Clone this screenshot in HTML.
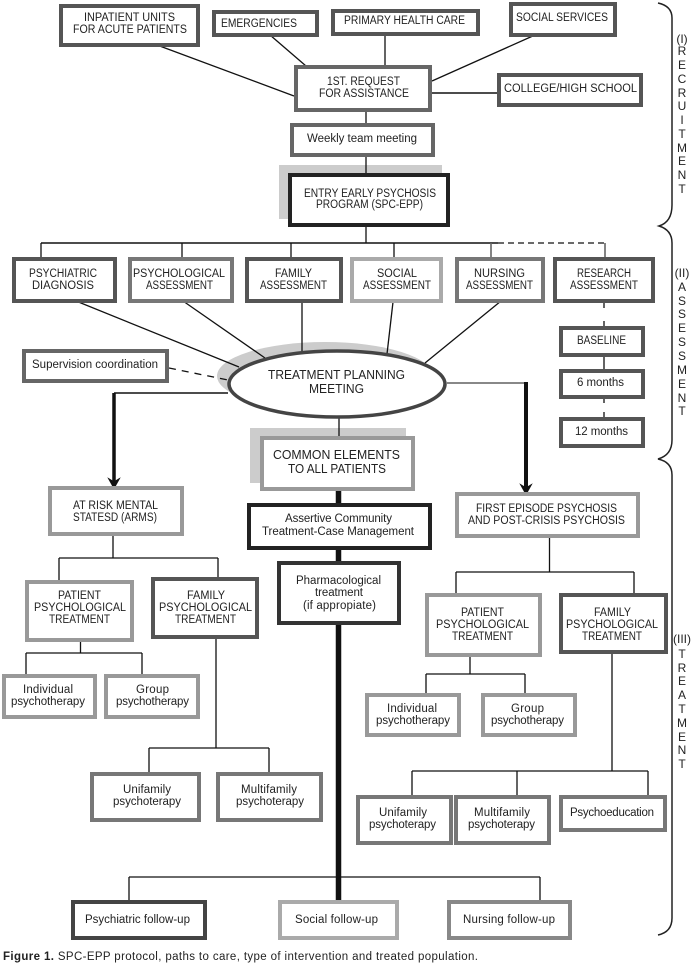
<!DOCTYPE html>
<html><head><meta charset="utf-8"><style>
html,body{margin:0;padding:0;background:#fff}
svg{display:block}
text{font-family:"Liberation Sans",sans-serif;font-size:11.5px;fill:#222}
.b rect{fill:#fff;stroke-width:4}
.l line,.l path{stroke:#111;fill:none;stroke-width:1.3}
.s text{font-size:12px;fill:#222;text-anchor:middle}
</style></head><body>
<svg width="694" height="964" viewBox="0 0 694 964" xmlns="http://www.w3.org/2000/svg">
<rect width="694" height="964" fill="#fff"/>
<!-- shadows -->
<rect x="279" y="165" width="163" height="54" fill="#ccc"/>
<ellipse cx="325" cy="376" rx="108" ry="34" fill="#ccc"/>
<rect x="250" y="428" width="156" height="55" fill="#ccc"/>
<!-- connectors -->
<g class="l">
<line x1="157" y1="45" x2="294" y2="96"/>
<line x1="270" y1="35" x2="306" y2="66"/>
<line x1="385" y1="36" x2="385" y2="66"/>
<line x1="535" y1="35" x2="432" y2="81"/>
<line x1="432" y1="93" x2="497" y2="93" style="stroke-width:1.6"/>
<line x1="366" y1="112" x2="366" y2="123"/>
<line x1="366" y1="157" x2="366" y2="174"/>
<line x1="366" y1="226" x2="366" y2="243"/>
<line x1="41" y1="243" x2="498" y2="243" style="stroke-width:1.6"/>
<line x1="498" y1="243" x2="605" y2="243" stroke-dasharray="6 4"/>
<line x1="41" y1="243" x2="41" y2="258"/>
<line x1="182" y1="243" x2="182" y2="258"/>
<line x1="291" y1="243" x2="291" y2="258"/>
<line x1="394" y1="243" x2="394" y2="258"/>
<line x1="491" y1="243" x2="491" y2="258" style="stroke:#666;stroke-width:1.6"/>
<line x1="605" y1="243" x2="605" y2="258" style="stroke:#666;stroke-width:1.6"/>
<line x1="76" y1="301" x2="239" y2="367"/>
<line x1="183" y1="301" x2="265" y2="358"/>
<line x1="302" y1="302" x2="302" y2="352"/>
<line x1="393" y1="302" x2="387" y2="354"/>
<line x1="501" y1="301" x2="425" y2="363"/>
<line x1="604" y1="303" x2="604" y2="308"/>
<line x1="604" y1="321" x2="604" y2="327"/>
<line x1="604" y1="356" x2="604" y2="370"/>
<line x1="604" y1="398" x2="604" y2="403"/>
<line x1="604" y1="412" x2="604" y2="418"/>
<line x1="169" y1="368" x2="228" y2="380" stroke-dasharray="7 6"/>
<line x1="339" y1="418" x2="339" y2="437"/>
<line x1="228" y1="393" x2="114" y2="393" style="stroke-width:1.6"/>
<line x1="114" y1="393" x2="114" y2="482" style="stroke-width:3.5"/>
<line x1="447" y1="383" x2="526" y2="383" style="stroke:#777;stroke-width:1.8"/>
<line x1="526" y1="382" x2="526" y2="488" style="stroke-width:4"/>
<path d="M109 479 L114 488 L119 479 L114 482 Z" style="fill:#111"/>
<path d="M521 485 L526 494 L531 485 L526 488 Z" style="fill:#111"/>
<line x1="338.5" y1="488" x2="338.5" y2="905" style="stroke-width:5.5"/>
<line x1="113" y1="536" x2="113" y2="558"/>
<line x1="59" y1="558" x2="218" y2="558"/>
<line x1="59" y1="558" x2="59" y2="581"/>
<line x1="218" y1="558" x2="218" y2="578"/>
<line x1="80.5" y1="642" x2="80.5" y2="653"/>
<line x1="26" y1="653" x2="142" y2="653"/>
<line x1="26" y1="653" x2="26" y2="675"/>
<line x1="142" y1="653" x2="142" y2="675"/>
<line x1="216" y1="639" x2="216" y2="748"/>
<line x1="149" y1="748" x2="269" y2="748"/>
<line x1="149" y1="748" x2="149" y2="773"/>
<line x1="269" y1="748" x2="269" y2="773"/>
<line x1="549.5" y1="538" x2="549.5" y2="572"/>
<line x1="456" y1="572" x2="634" y2="572"/>
<line x1="456" y1="572" x2="456" y2="594"/>
<line x1="634" y1="572" x2="634" y2="594"/>
<line x1="470" y1="657" x2="470" y2="674"/>
<line x1="426" y1="674" x2="525" y2="674"/>
<line x1="426" y1="674" x2="426" y2="694"/>
<line x1="525" y1="674" x2="525" y2="694"/>
<line x1="612" y1="654" x2="612" y2="771"/>
<line x1="412" y1="771" x2="648" y2="771"/>
<line x1="412" y1="771" x2="412" y2="796"/>
<line x1="517" y1="771" x2="517" y2="796"/>
<line x1="648" y1="771" x2="648" y2="796"/>
<line x1="129" y1="877" x2="540" y2="877"/>
<line x1="129" y1="877" x2="129" y2="901"/>
<line x1="540" y1="877" x2="540" y2="901"/>
<path d="M658 3 Q672 6 672 18 L672 205 Q672 222 659 226 Q672 230 672 243 L672 440 Q672 455 658 459 Q672 462 672 475 L672 918 Q672 932 658 935" style="stroke:#222;stroke-width:1.5"/>
</g>
<!-- boxes -->
<g class="b">
<rect x="61" y="6" width="137" height="39" stroke="#555"/>
<rect x="214" y="12" width="103" height="23" stroke="#555"/>
<rect x="333" y="11" width="145" height="23" stroke="#555"/>
<rect x="511" y="4" width="104" height="31" stroke="#555"/>
<rect x="296" y="67" width="134" height="43" stroke="#666"/>
<rect x="499" y="75" width="142" height="30" stroke="#555"/>
<rect x="292" y="125" width="141" height="30" stroke="#666"/>
<rect x="290" y="175" width="158" height="50" stroke="#222"/>
<rect x="14" y="259" width="101" height="42" stroke="#555"/>
<rect x="130" y="259" width="102" height="42" stroke="#777"/>
<rect x="247" y="259" width="94" height="42" stroke="#555"/>
<rect x="352" y="259" width="89" height="42" stroke="#aaa"/>
<rect x="457" y="259" width="86" height="42" stroke="#777"/>
<rect x="555" y="259" width="98" height="42" stroke="#555"/>
<rect x="24" y="351" width="143" height="30" stroke="#666"/>
<rect x="561" y="328" width="82" height="27" stroke="#555"/>
<rect x="561" y="371" width="82" height="26" stroke="#555"/>
<rect x="561" y="419" width="82" height="27" stroke="#555"/>
<rect x="262" y="438" width="151" height="51" stroke="#999"/>
<rect x="50" y="488" width="132" height="46" stroke="#999"/>
<rect x="249" y="505" width="181" height="43" stroke="#222"/>
<rect x="279" y="563" width="120" height="60" stroke="#333"/>
<rect x="457" y="494" width="181" height="42" stroke="#999"/>
<rect x="27" y="582" width="105" height="58" stroke="#999"/>
<rect x="153" y="579" width="104" height="58" stroke="#555"/>
<rect x="427" y="595" width="113" height="60" stroke="#999"/>
<rect x="561" y="595" width="105" height="57" stroke="#555"/>
<rect x="4" y="676" width="91" height="41" stroke="#999"/>
<rect x="106" y="676" width="92" height="41" stroke="#999"/>
<rect x="367" y="695" width="92" height="40" stroke="#999"/>
<rect x="483" y="695" width="92" height="40" stroke="#999"/>
<rect x="92" y="774" width="107" height="46" stroke="#777"/>
<rect x="218" y="774" width="103" height="46" stroke="#777"/>
<rect x="358" y="797" width="93" height="46" stroke="#777"/>
<rect x="456" y="797" width="93" height="46" stroke="#777"/>
<rect x="561" y="797" width="104" height="33" stroke="#777"/>
<rect x="73" y="902" width="132" height="36" stroke="#444"/>
<rect x="280" y="902" width="117" height="36" stroke="#aaa"/>
<rect x="449" y="902" width="121" height="36" stroke="#888"/>
</g>
<ellipse cx="337" cy="384" rx="108" ry="33" fill="#fff" stroke="#444" stroke-width="3.5"/>
<!-- labels -->
<g>
<text x="84" y="21" textLength="91" lengthAdjust="spacingAndGlyphs">INPATIENT UNITS</text>
<text x="73" y="33" textLength="114" lengthAdjust="spacingAndGlyphs">FOR ACUTE PATIENTS</text>
<text x="221" y="27" textLength="76" lengthAdjust="spacingAndGlyphs">EMERGENCIES</text>
<text x="344" y="24" textLength="121" lengthAdjust="spacingAndGlyphs">PRIMARY HEALTH CARE</text>
<text x="516" y="21" textLength="92" lengthAdjust="spacingAndGlyphs">SOCIAL SERVICES</text>
<text x="327" y="85" textLength="73" lengthAdjust="spacingAndGlyphs">1ST. REQUEST</text>
<text x="319" y="97" textLength="90" lengthAdjust="spacingAndGlyphs">FOR ASSISTANCE</text>
<text x="504" y="92" textLength="133" lengthAdjust="spacingAndGlyphs">COLLEGE/HIGH SCHOOL</text>
<text x="307" y="142" textLength="110" lengthAdjust="spacing">Weekly team meeting</text>
<text x="304" y="197" textLength="132" lengthAdjust="spacingAndGlyphs">ENTRY EARLY PSYCHOSIS</text>
<text x="316" y="208" textLength="107" lengthAdjust="spacingAndGlyphs">PROGRAM (SPC-EPP)</text>
<text x="29" y="277" textLength="68" lengthAdjust="spacingAndGlyphs">PSYCHIATRIC</text>
<text x="32" y="289" textLength="62" lengthAdjust="spacingAndGlyphs">DIAGNOSIS</text>
<text x="133" y="277" textLength="92" lengthAdjust="spacingAndGlyphs">PSYCHOLOGICAL</text>
<text x="146" y="289" textLength="67" lengthAdjust="spacingAndGlyphs">ASSESSMENT</text>
<text x="275" y="277" textLength="37" lengthAdjust="spacingAndGlyphs">FAMILY</text>
<text x="260" y="289" textLength="67" lengthAdjust="spacingAndGlyphs">ASSESSMENT</text>
<text x="377" y="277" textLength="40" lengthAdjust="spacingAndGlyphs">SOCIAL</text>
<text x="363" y="289" textLength="68" lengthAdjust="spacingAndGlyphs">ASSESSMENT</text>
<text x="474" y="277" textLength="51" lengthAdjust="spacingAndGlyphs">NURSING</text>
<text x="466" y="289" textLength="67" lengthAdjust="spacingAndGlyphs">ASSESSMENT</text>
<text x="577" y="277" textLength="54" lengthAdjust="spacingAndGlyphs">RESEARCH</text>
<text x="570" y="289" textLength="68" lengthAdjust="spacingAndGlyphs">ASSESSMENT</text>
<text x="32" y="368" textLength="126" lengthAdjust="spacing">Supervision coordination</text>
<text x="268" y="379" textLength="137" lengthAdjust="spacingAndGlyphs" style="font-size:12.5px">TREATMENT PLANNING</text>
<text x="309" y="393" textLength="55" lengthAdjust="spacingAndGlyphs" style="font-size:12.5px">MEETING</text>
<text x="273" y="459" textLength="127" lengthAdjust="spacingAndGlyphs" style="font-size:12.5px">COMMON ELEMENTS</text>
<text x="288" y="473" textLength="98" lengthAdjust="spacingAndGlyphs" style="font-size:12.5px">TO ALL PATIENTS</text>
<text x="577" y="344" textLength="49" lengthAdjust="spacingAndGlyphs">BASELINE</text>
<text x="577" y="386" textLength="47" lengthAdjust="spacing">6 months</text>
<text x="575" y="435" textLength="53" lengthAdjust="spacing">12 months</text>
<text x="73" y="509" textLength="85" lengthAdjust="spacingAndGlyphs">AT RISK MENTAL</text>
<text x="73" y="521" textLength="84" lengthAdjust="spacingAndGlyphs">STATESD (ARMS)</text>
<text x="285" y="522" textLength="107" lengthAdjust="spacing">Assertive Community</text>
<text x="262" y="535" textLength="152" lengthAdjust="spacing">Treatment-Case Management</text>
<text x="296" y="584" textLength="85" lengthAdjust="spacing">Pharmacological</text>
<text x="315" y="596" textLength="48" lengthAdjust="spacing">treatment</text>
<text x="303" y="609" textLength="73" lengthAdjust="spacing">(if appropiate)</text>
<text x="476" y="512" textLength="141" lengthAdjust="spacingAndGlyphs">FIRST EPISODE PSYCHOSIS</text>
<text x="468" y="524" textLength="157" lengthAdjust="spacingAndGlyphs">AND POST-CRISIS PSYCHOSIS</text>
<text x="58" y="599" textLength="43" lengthAdjust="spacingAndGlyphs">PATIENT</text>
<text x="34" y="611" textLength="92" lengthAdjust="spacingAndGlyphs">PSYCHOLOGICAL</text>
<text x="49" y="623" textLength="61" lengthAdjust="spacingAndGlyphs">TREATMENT</text>
<text x="187" y="599" textLength="38" lengthAdjust="spacingAndGlyphs">FAMILY</text>
<text x="159" y="611" textLength="93" lengthAdjust="spacingAndGlyphs">PSYCHOLOGICAL</text>
<text x="175" y="623" textLength="61" lengthAdjust="spacingAndGlyphs">TREATMENT</text>
<text x="461" y="616" textLength="43" lengthAdjust="spacingAndGlyphs">PATIENT</text>
<text x="436" y="628" textLength="93" lengthAdjust="spacingAndGlyphs">PSYCHOLOGICAL</text>
<text x="452" y="640" textLength="61" lengthAdjust="spacingAndGlyphs">TREATMENT</text>
<text x="594" y="616" textLength="37" lengthAdjust="spacingAndGlyphs">FAMILY</text>
<text x="566" y="628" textLength="92" lengthAdjust="spacingAndGlyphs">PSYCHOLOGICAL</text>
<text x="582" y="640" textLength="60" lengthAdjust="spacingAndGlyphs">TREATMENT</text>
<text x="23" y="693" textLength="50" lengthAdjust="spacing">Individual</text>
<text x="11" y="705" textLength="74" lengthAdjust="spacing">psychotherapy</text>
<text x="136" y="693" textLength="33" lengthAdjust="spacing">Group</text>
<text x="116" y="705" textLength="73" lengthAdjust="spacing">psychotherapy</text>
<text x="387" y="712" textLength="50" lengthAdjust="spacing">Individual</text>
<text x="376" y="724" textLength="74" lengthAdjust="spacing">psychotherapy</text>
<text x="511" y="712" textLength="33" lengthAdjust="spacing">Group</text>
<text x="491" y="724" textLength="73" lengthAdjust="spacing">psychotherapy</text>
<text x="123" y="793" textLength="48" lengthAdjust="spacing">Unifamily</text>
<text x="113" y="805" textLength="68" lengthAdjust="spacing">psychoterapy</text>
<text x="241" y="793" textLength="56" lengthAdjust="spacing">Multifamily</text>
<text x="236" y="805" textLength="68" lengthAdjust="spacing">psychoterapy</text>
<text x="379" y="816" textLength="48" lengthAdjust="spacing">Unifamily</text>
<text x="369" y="828" textLength="67" lengthAdjust="spacing">psychoterapy</text>
<text x="474" y="816" textLength="56" lengthAdjust="spacing">Multifamily</text>
<text x="468" y="828" textLength="67" lengthAdjust="spacing">psychoterapy</text>
<text x="570" y="816" textLength="84" lengthAdjust="spacing">Psychoeducation</text>
<text x="85" y="923" textLength="105" lengthAdjust="spacing">Psychiatric follow-up</text>
<text x="295" y="923" textLength="83" lengthAdjust="spacing">Social follow-up</text>
<text x="463" y="923" textLength="92" lengthAdjust="spacing">Nursing follow-up</text>
<text x="3" y="960" textLength="475" lengthAdjust="spacing"><tspan font-weight="bold">Figure 1.</tspan> SPC-EPP protocol, paths to care, type of intervention and treated population.</text>
</g>
<g class="s">
<text x="682" y="43">(I)</text><text x="682" y="55">R</text><text x="682" y="69">E</text><text x="682" y="83">C</text><text x="682" y="97">R</text><text x="682" y="110">U</text><text x="682" y="124">I</text><text x="682" y="138">T</text><text x="682" y="152">M</text><text x="682" y="165">E</text><text x="682" y="179">N</text><text x="682" y="193">T</text>
<text x="682" y="277">(II)</text><text x="682" y="291">A</text><text x="682" y="305">S</text><text x="682" y="318">S</text><text x="682" y="332">E</text><text x="682" y="346">S</text><text x="682" y="360">S</text><text x="682" y="374">M</text><text x="682" y="388">E</text><text x="682" y="402">N</text><text x="682" y="415">T</text>
<text x="682" y="643">(III)</text><text x="682" y="658">T</text><text x="682" y="672">R</text><text x="682" y="685">E</text><text x="682" y="699">A</text><text x="682" y="713">T</text><text x="682" y="727">M</text><text x="682" y="741">E</text><text x="682" y="754">N</text><text x="682" y="768">T</text>
</g>
</svg>
</body></html>
